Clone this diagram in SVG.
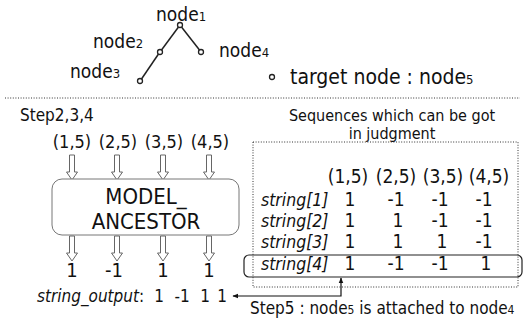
<svg xmlns="http://www.w3.org/2000/svg" xmlns:xlink="http://www.w3.org/1999/xlink" width="524" height="322" viewBox="0 0 524 322">
<style>
text{font-family:'DejaVu Sans Condensed','DejaVu Sans',sans-serif;font-stretch:condensed;fill:#111}
.lbl{font-size:19px}
.sub{font-size:13px}
.num{font-size:19px}
.it{font-style:italic}
.dot{fill:none;stroke:#333;stroke-width:1;stroke-dasharray:1 1.6}
.edge{fill:none;stroke:#222;stroke-width:1.5}
.nd{fill:#fff;stroke:#222;stroke-width:1.3}
.ha{fill:#fff;stroke:#666;stroke-width:1}
</style>
<defs>
<path id="harrow" d="M-2.5,0 V17 H-5.5 L0,25 L5.5,17 H2.5 V0 Z"/>
<marker id="ah" viewBox="0 0 10 10" refX="9" refY="5" markerWidth="6" markerHeight="6" orient="auto-start-reverse" markerUnits="userSpaceOnUse">
<path d="M0,1 L10,5 L0,9 Z" fill="#111"/>
</marker>
</defs>
<rect width="524" height="322" fill="#fff"/>

<g id="connectors">
<line class="edge" x1="178.5" y1="27" x2="161.5" y2="50"/>
<line class="edge" x1="181.5" y1="27" x2="199.5" y2="50"/>
<line class="edge" x1="158.5" y1="54" x2="141.5" y2="79"/>
<g class="ha">
<use xlink:href="#harrow" x="72" y="155"/>
<use xlink:href="#harrow" x="117" y="155"/>
<use xlink:href="#harrow" x="163" y="155"/>
<use xlink:href="#harrow" x="209" y="155"/>
<use xlink:href="#harrow" x="72" y="236"/>
<use xlink:href="#harrow" x="117" y="236"/>
<use xlink:href="#harrow" x="163" y="236"/>
<use xlink:href="#harrow" x="209" y="236"/>
</g>
<path d="M233,296 H341 V278" fill="none" stroke="#111" stroke-width="1.2" marker-start="url(#ah)" marker-end="url(#ah)"/>
</g>

<g id="node1"><circle class="nd" cx="180" cy="25" r="2.5"/><text class="lbl" x="156" y="21">node<tspan class="sub">1</tspan></text></g>
<g id="node2"><circle class="nd" cx="160" cy="52" r="2.5"/><text class="lbl" x="93" y="48">node<tspan class="sub">2</tspan></text></g>
<g id="node3"><circle class="nd" cx="140" cy="81" r="2.5"/><text class="lbl" x="70" y="78">node<tspan class="sub">3</tspan></text></g>
<g id="node4"><circle class="nd" cx="201" cy="52" r="2.5"/><text class="lbl" x="219" y="57">node<tspan class="sub">4</tspan></text></g>
<g id="target"><circle class="nd" cx="272" cy="77" r="2.5"/><text x="290" y="84" style="font-size:21px">target node : node<tspan class="sub">5</tspan></text></g>

<line class="dot" x1="5" y1="98" x2="520" y2="98"/>

<g id="steps">
<text x="20" y="121" style="font-size:17px">Step2,3,4</text>
<g class="num" text-anchor="middle" style="font-size:18px">
<text x="72" y="148">(1,5)</text>
<text x="118" y="148">(2,5)</text>
<text x="164" y="148">(3,5)</text>
<text x="210" y="148">(4,5)</text>
</g>
</g>

<g id="model">
<rect x="52" y="179" width="187" height="56" rx="10" fill="#fff" stroke="#777" stroke-width="1"/>
<text x="146" y="204" text-anchor="middle" style="font-size:22px">MODEL_</text>
<text x="146" y="229" text-anchor="middle" style="font-size:22px">ANCESTOR</text>
</g>

<g id="outputs" class="num" text-anchor="middle" style="font-size:20px">
<text x="72" y="277">1</text>
<text x="114" y="277">-1</text>
<text x="163" y="277">1</text>
<text x="209" y="277">1</text>
</g>

<g id="string_output" style="font-size:17px">
<text x="37" y="302"><tspan class="it">string_output</tspan>:</text>
<text x="159" y="302" text-anchor="middle">1</text>
<text x="182" y="302" text-anchor="middle">-1</text>
<text x="205" y="302" text-anchor="middle">1</text>
<text x="222" y="302" text-anchor="middle">1</text>
</g>

<g id="sequences">
<text x="392" y="121" text-anchor="middle" style="font-size:16px">Sequences which can be got</text>
<text x="392" y="139" text-anchor="middle" style="font-size:16px">in judgment</text>
<rect class="dot" x="253" y="142" width="265" height="145"/>
<g class="num" text-anchor="middle">
<text x="348" y="183">(1,5)</text>
<text x="396" y="183">(2,5)</text>
<text x="443" y="183">(3,5)</text>
<text x="489" y="183">(4,5)</text>
</g>
<g class="it" style="font-size:17.5px">
<text x="261" y="206">string[1]</text>
<text x="261" y="227">string[2]</text>
<text x="261" y="248">string[3]</text>
<text x="261" y="270">string[4]</text>
</g>
<g class="num" text-anchor="middle">
<text x="350" y="206">1</text><text x="396" y="206">-1</text><text x="440" y="206">-1</text><text x="484" y="206">-1</text>
<text x="350" y="227">1</text><text x="398" y="227">1</text><text x="440" y="227">-1</text><text x="484" y="227">-1</text>
<text x="350" y="248">1</text><text x="398" y="248">1</text><text x="442" y="248">1</text><text x="484" y="248">-1</text>
<text x="350" y="270">1</text><text x="396" y="270">-1</text><text x="440" y="270">-1</text><text x="486" y="270">1</text>
</g>
<rect x="244" y="255" width="278" height="22" rx="5" fill="none" stroke="#222" stroke-width="1.2"/>
</g>

<g id="step5">
<text x="250" y="314" style="font-size:17px">Step5 : node<tspan style="font-size:12px">5</tspan> is attached to node<tspan style="font-size:12px">4</tspan></text>
</g>
</svg>
